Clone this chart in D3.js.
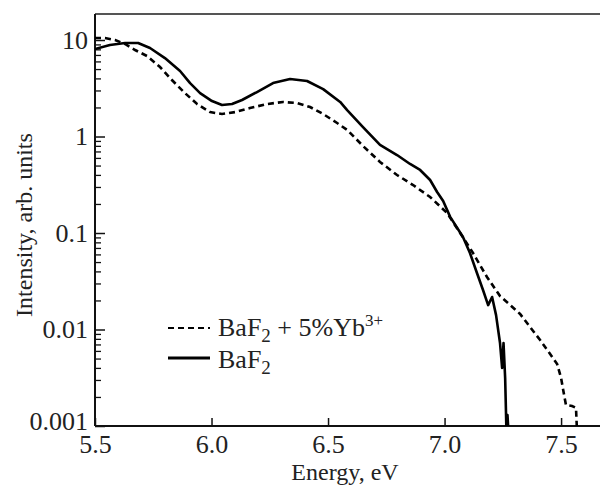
<!DOCTYPE html>
<html>
<head>
<meta charset="utf-8">
<script src="https://cdn.jsdelivr.net/npm/d3@7"></script>
<style>
  body { margin: 0; background: #fff; }
  svg text { font-family: "Liberation Serif", "Times New Roman", serif; }
</style>
</head>
<body>
<script>
// Spectra (energy in eV, intensity in arb. units)
const energyBaF2 = [5.500, 5.564, 5.629, 5.685, 5.736, 5.800, 5.865, 5.908, 5.951, 6.002,
  6.045, 6.088, 6.131, 6.195, 6.264, 6.337, 6.410, 6.479, 6.552, 6.582, 6.650, 6.723,
  6.796, 6.852, 6.895, 6.938, 6.968, 6.994, 7.024, 7.079, 7.109, 7.139, 7.165, 7.187,
  7.204, 7.221, 7.238, 7.247, 7.253, 7.260, 7.266, 7.270, 7.275];
const intensityBaF2 = [8.07, 8.87, 9.31, 9.31, 8.26, 6.50, 4.77, 3.58, 2.82, 2.33,
  2.12, 2.17, 2.39, 2.89, 3.58, 3.94, 3.76, 3.10, 2.28, 1.88, 1.25, 0.817,
  0.643, 0.519, 0.450, 0.354, 0.266, 0.215, 0.147, 0.091, 0.062, 0.0385, 0.0257, 0.0179,
  0.0217, 0.0141, 0.00724, 0.00399, 0.00724, 0.00314, 0.0008, 0.0013, 0.0008];

const energyYb = [5.500, 5.543, 5.586, 5.629, 5.672, 5.723, 5.779, 5.830, 5.886, 5.938,
  5.994, 6.045, 6.101, 6.165, 6.238, 6.307, 6.367, 6.423, 6.479, 6.539, 6.582, 6.650,
  6.723, 6.796, 6.865, 6.938, 7.011, 7.067, 7.122, 7.182, 7.238, 7.281, 7.324, 7.367,
  7.410, 7.453, 7.483, 7.500, 7.513, 7.521, 7.547, 7.564, 7.569];
const intensityYb = [10.5, 10.5, 10.0, 9.1, 7.88, 6.83, 5.25, 3.85, 2.82, 2.17,
  1.79, 1.71, 1.79, 1.97, 2.17, 2.28, 2.22, 2.02, 1.71, 1.38, 1.17, 0.798,
  0.545, 0.399, 0.314, 0.236, 0.161, 0.100, 0.062, 0.035, 0.0222, 0.0180, 0.0145, 0.0106,
  0.00778, 0.00557, 0.00439, 0.00314, 0.00209, 0.00165, 0.00161, 0.00154, 0.0008];

const xTicks = [5.5, 6.0, 6.5, 7.0, 7.5];
const yTicks = [0.001, 0.01, 0.1, 1, 10];
const yTickLabels = ["0.001", "0.01", "0.1", "1", "10"];

const width = 600, height = 485;
const margin = {top: 14, right: 0, bottom: 59, left: 95};
const innerW = width - margin.left - margin.right;
const innerH = height - margin.top - margin.bottom;

const x = d3.scaleLinear().domain([5.5, 7.667]).range([0, innerW]);
const y = d3.scaleLog().domain([0.001, 18.6]).range([innerH, 0]);

const svg = d3.select("body").append("svg")
  .attr("width", width).attr("height", height);

svg.append("defs").append("clipPath").attr("id", "plot-clip")
  .append("rect").attr("width", innerW).attr("height", innerH);

const g = svg.append("g").attr("transform", `translate(${margin.left},${margin.top})`);

// minor log ticks 2..9 per decade
const minor = [];
for (let e = -3; e <= 1; e++) {
  for (let m = 2; m <= 9; m++) {
    const v = m * Math.pow(10, e);
    if (v < 18.6) minor.push(v);
  }
}

g.append("g").call(d3.axisLeft(y).tickValues(minor).tickSize(-6).tickFormat(""))
  .call(a => a.select(".domain").remove())
  .call(a => a.selectAll("line").attr("stroke", "#111").attr("stroke-width", 1.3));

g.append("g")
  .call(d3.axisLeft(y).tickValues(yTicks).tickSize(-10).tickPadding(7)
    .tickFormat((d, i) => yTickLabels[i]))
  .attr("font-family", null)
  .call(a => a.select(".domain").remove())
  .call(a => a.selectAll("line").attr("stroke", "#111").attr("stroke-width", 1.5))
  .call(a => a.selectAll("text").attr("font-size", 26).attr("fill", "#222")
    .attr("dy", d => d === 0.001 ? "0.12em" : "0.32em"));

g.append("g").attr("transform", `translate(0,${innerH})`)
  .call(d3.axisBottom(x).tickValues(xTicks).tickSize(-8).tickFormat(d3.format(".1f")))
  .attr("font-family", null)
  .call(a => a.select(".domain").remove())
  .call(a => a.selectAll("line").attr("stroke", "#111").attr("stroke-width", 1.5))
  .call(a => a.selectAll("text").attr("font-size", 26).attr("fill", "#222")
    .attr("y", 27).attr("dy", 0));

// frame: top, left, bottom
g.append("line").attr("x1", 0).attr("x2", innerW).attr("y1", 0).attr("y2", 0)
  .attr("stroke", "#555").attr("stroke-width", 2);
g.append("line").attr("x1", 0).attr("x2", 0).attr("y1", 0).attr("y2", innerH)
  .attr("stroke", "#111").attr("stroke-width", 2);
g.append("line").attr("x1", 0).attr("x2", innerW).attr("y1", innerH).attr("y2", innerH)
  .attr("stroke", "#111").attr("stroke-width", 2);

const line = d3.line().x(d => x(d[0])).y(d => y(d[1]));
const plot = g.append("g").attr("clip-path", "url(#plot-clip)");

plot.append("path")
  .datum(d3.zip(energyYb, intensityYb))
  .attr("fill", "none").attr("stroke", "#000").attr("stroke-width", 2.6)
  .attr("stroke-dasharray", "6,4")
  .attr("d", line);

plot.append("path")
  .datum(d3.zip(energyBaF2, intensityBaF2))
  .attr("fill", "none").attr("stroke", "#000").attr("stroke-width", 2.6)
  .attr("stroke-linejoin", "round")
  .attr("d", line);

// legend
const legend = svg.append("g").attr("font-size", 26).attr("fill", "#222");
legend.append("line").attr("x1", 168).attr("x2", 210).attr("y1", 328).attr("y2", 328)
  .attr("stroke", "#000").attr("stroke-width", 2).attr("stroke-dasharray", "6,4");
legend.append("line").attr("x1", 168).attr("x2", 210).attr("y1", 358).attr("y2", 358)
  .attr("stroke", "#000").attr("stroke-width", 3);

const t1 = legend.append("text").attr("x", 218).attr("y", 336);
t1.append("tspan").text("BaF");
t1.append("tspan").attr("font-size", 19).attr("dy", 6).text("2");
t1.append("tspan").attr("dy", -6).text(" + 5%Yb");
t1.append("tspan").attr("font-size", 17).attr("dy", -10).text("3+");

const t2 = legend.append("text").attr("x", 218).attr("y", 368);
t2.append("tspan").text("BaF");
t2.append("tspan").attr("font-size", 19).attr("dy", 6).text("2");

// axis titles
svg.append("text")
  .attr("x", 345).attr("y", 480)
  .attr("text-anchor", "middle").attr("font-size", 24).attr("fill", "#222")
  .text("Energy, eV");

svg.append("text")
  .attr("transform", "translate(32,225) rotate(-90)")
  .attr("text-anchor", "middle").attr("font-size", 24).attr("fill", "#222")
  .text("Intensity, arb. units");
</script>
</body>
</html>
